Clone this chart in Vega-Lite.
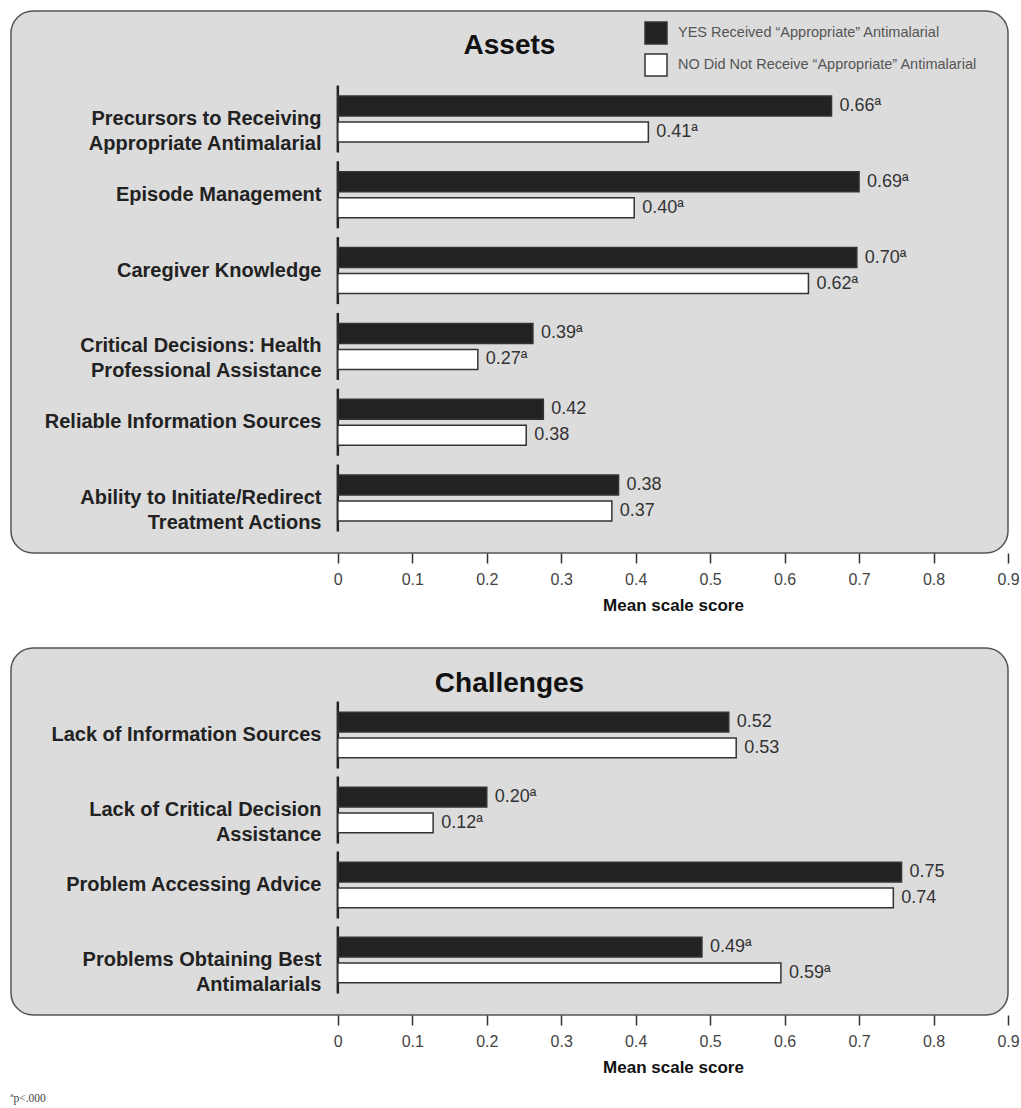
{
  "$schema": "https://vega.github.io/schema/vega-lite/v6.json",
  "background": "white",
  "padding": {"left": 10, "top": 10, "right": 5, "bottom": 5},
  "title": {"text": "ªp<.000", "orient": "bottom", "anchor": "start", "font": "Liberation Serif", "fontSize": 11.5, "fontWeight": "normal", "color": "#444444", "offset": 17},
  "config": {
    "font": "Liberation Sans",
    "view": {"fill": "#dcdcdc", "stroke": "#555555", "strokeWidth": 1.5, "cornerRadius": 22}
  },
  "datasets": {
    "assets": [
      {"category": "Precursors to Receiving|Appropriate Antimalarial", "group": "YES", "score": 0.663, "label": "0.66ª"},
      {"category": "Precursors to Receiving|Appropriate Antimalarial", "group": "NO", "score": 0.417, "label": "0.41ª"},
      {"category": "Episode Management", "group": "YES", "score": 0.700, "label": "0.69ª"},
      {"category": "Episode Management", "group": "NO", "score": 0.398, "label": "0.40ª"},
      {"category": "Caregiver Knowledge", "group": "YES", "score": 0.697, "label": "0.70ª"},
      {"category": "Caregiver Knowledge", "group": "NO", "score": 0.632, "label": "0.62ª"},
      {"category": "Critical Decisions: Health|Professional Assistance", "group": "YES", "score": 0.262, "label": "0.39ª"},
      {"category": "Critical Decisions: Health|Professional Assistance", "group": "NO", "score": 0.188, "label": "0.27ª"},
      {"category": "Reliable Information Sources", "group": "YES", "score": 0.276, "label": "0.42"},
      {"category": "Reliable Information Sources", "group": "NO", "score": 0.253, "label": "0.38"},
      {"category": "Ability to Initiate/Redirect|Treatment Actions", "group": "YES", "score": 0.377, "label": "0.38"},
      {"category": "Ability to Initiate/Redirect|Treatment Actions", "group": "NO", "score": 0.368, "label": "0.37"}
    ],
    "challenges": [
      {"category": "Lack of Information Sources", "group": "YES", "score": 0.525, "label": "0.52"},
      {"category": "Lack of Information Sources", "group": "NO", "score": 0.535, "label": "0.53"},
      {"category": "Lack of Critical Decision|Assistance", "group": "YES", "score": 0.200, "label": "0.20ª"},
      {"category": "Lack of Critical Decision|Assistance", "group": "NO", "score": 0.128, "label": "0.12ª"},
      {"category": "Problem Accessing Advice", "group": "YES", "score": 0.757, "label": "0.75"},
      {"category": "Problem Accessing Advice", "group": "NO", "score": 0.746, "label": "0.74"},
      {"category": "Problems Obtaining Best|Antimalarials", "group": "YES", "score": 0.489, "label": "0.49ª"},
      {"category": "Problems Obtaining Best|Antimalarials", "group": "NO", "score": 0.595, "label": "0.59ª"}
    ]
  },
  "spacing": 33,
  "resolve": {"scale": {"fill": "independent", "yOffset": "independent"}},
  "vconcat": [
    {
      "width": 997,
      "height": 542,
      "data": {"name": "assets"},
      "title": {"text": "Assets", "fontSize": 28, "fontWeight": "bold", "color": "#111111", "anchor": "middle", "frame": "group", "offset": -71, "baseline": "alphabetic"},
      "encoding": {
        "y": {
          "field": "category", "type": "nominal", "sort": null,
          "scale": {"paddingInner": 0, "paddingOuter": 0.575, "align": 0.804},
          "axis": {"title": null, "orient": "left", "offset": -327, "domain": false, "ticks": false, "labelFontSize": 20, "labelFontWeight": "bold", "labelColor": "#222222", "labelPadding": 17, "labelLineHeight": 25, "labelLimit": 0, "labelExpr": "split(datum.label, '|')"}
        }
      },
      "layer": [
        {
          "transform": [{"filter": "datum.group == 'YES'"}],
          "mark": {"type": "tick", "color": "#222222", "thickness": 2.5, "size": 67, "opacity": 1},
          "encoding": {"x": {"datum": 0, "type": "quantitative"}}
        },
        {
          "mark": {"type": "bar", "stroke": "#333333", "strokeWidth": 1.5},
          "encoding": {
            "x": {
              "field": "score", "type": "quantitative", "stack": null,
              "scale": {"domain": [-0.4389, 0.9], "nice": false, "zero": false},
              "axis": {"title": "Mean scale score", "values": [0, 0.1, 0.2, 0.3, 0.4, 0.5, 0.6, 0.7, 0.8, 0.9], "labelExpr": "datum.value == 0 ? '0' : format(datum.value, '.1f')", "domain": false, "grid": false, "tickSize": 10, "tickWidth": 1.5, "tickColor": "#333333", "labelFontSize": 16, "labelColor": "#444444", "labelPadding": 8, "labelFlush": false, "titleFontSize": 17, "titleFontWeight": "bold", "titleColor": "#111111", "titlePadding": 10, "titleX": 662}
            },
            "yOffset": {"field": "group", "type": "nominal", "sort": ["YES", "NO"], "scale": {"paddingInner": 0.23, "paddingOuter": 0.573}},
            "fill": {
              "field": "group", "type": "nominal",
              "scale": {"domain": ["YES", "NO"], "range": ["#222222", "#ffffff"]},
              "legend": {"orient": "none", "legendX": 633, "legendY": 10, "title": null, "symbolType": "square", "symbolSize": 484, "symbolStrokeColor": "#333333", "symbolStrokeWidth": 1.5, "labelFontSize": 14.5, "labelColor": "#555555", "labelOffset": 10, "rowPadding": 4, "padding": 0, "labelLimit": 0, "labelExpr": "datum.label == 'YES' ? 'YES Received “Appropriate” Antimalarial' : 'NO Did Not Receive “Appropriate” Antimalarial'"}
            }
          }
        },
        {
          "mark": {"type": "text", "align": "left", "baseline": "middle", "dx": 8, "fontSize": 18, "color": "#333333"},
          "encoding": {
            "x": {"field": "score", "type": "quantitative", "stack": null},
            "yOffset": {"field": "group", "type": "nominal", "sort": ["YES", "NO"]},
            "text": {"field": "label"}
          }
        }
      ]
    },
    {
      "width": 997,
      "height": 367,
      "data": {"name": "challenges"},
      "title": {"text": "Challenges", "fontSize": 28, "fontWeight": "bold", "color": "#111111", "anchor": "middle", "frame": "group", "offset": -72, "baseline": "alphabetic"},
      "encoding": {
        "y": {
          "field": "category", "type": "nominal", "sort": null,
          "scale": {"paddingInner": 0, "paddingOuter": 0.4467, "align": 0.739},
          "axis": {"title": null, "orient": "left", "offset": -327, "domain": false, "ticks": false, "labelFontSize": 20, "labelFontWeight": "bold", "labelColor": "#222222", "labelPadding": 17, "labelLineHeight": 25, "labelLimit": 0, "labelExpr": "split(datum.label, '|')"}
        }
      },
      "layer": [
        {
          "transform": [{"filter": "datum.group == 'YES'"}],
          "mark": {"type": "tick", "color": "#222222", "thickness": 2.5, "size": 67, "opacity": 1},
          "encoding": {"x": {"datum": 0, "type": "quantitative"}}
        },
        {
          "mark": {"type": "bar", "stroke": "#333333", "strokeWidth": 1.5},
          "encoding": {
            "x": {
              "field": "score", "type": "quantitative", "stack": null,
              "scale": {"domain": [-0.4389, 0.9], "nice": false, "zero": false},
              "axis": {"title": "Mean scale score", "values": [0, 0.1, 0.2, 0.3, 0.4, 0.5, 0.6, 0.7, 0.8, 0.9], "labelExpr": "datum.value == 0 ? '0' : format(datum.value, '.1f')", "domain": false, "grid": false, "tickSize": 10, "tickWidth": 1.5, "tickColor": "#333333", "labelFontSize": 16, "labelColor": "#444444", "labelPadding": 8, "labelFlush": false, "titleFontSize": 17, "titleFontWeight": "bold", "titleColor": "#111111", "titlePadding": 10, "titleX": 662}
            },
            "yOffset": {"field": "group", "type": "nominal", "sort": ["YES", "NO"], "scale": {"paddingInner": 0.23, "paddingOuter": 0.573}},
            "fill": {
              "field": "group", "type": "nominal",
              "scale": {"domain": ["YES", "NO"], "range": ["#222222", "#ffffff"]},
              "legend": null
            }
          }
        },
        {
          "mark": {"type": "text", "align": "left", "baseline": "middle", "dx": 8, "fontSize": 18, "color": "#333333"},
          "encoding": {
            "x": {"field": "score", "type": "quantitative", "stack": null},
            "yOffset": {"field": "group", "type": "nominal", "sort": ["YES", "NO"]},
            "text": {"field": "label"}
          }
        }
      ]
    }
  ]
}
